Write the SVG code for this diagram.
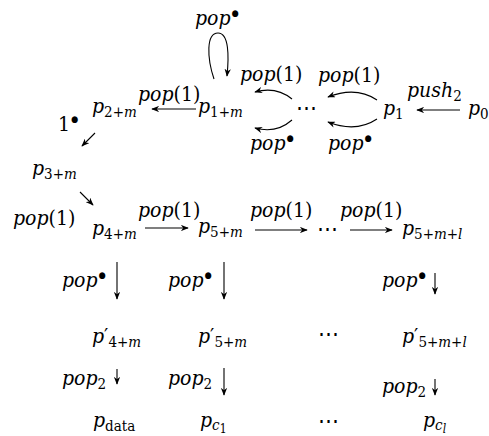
<svg xmlns="http://www.w3.org/2000/svg" width="489" height="436" viewBox="0 0 489 436">
<style>
.t{font-family:"DejaVu Serif",serif;font-stretch:condensed;font-size:21px;fill:#000}
.i{font-style:italic}
.s{font-size:15px}
.b{font-size:9px}
.e{fill:none;stroke:#000;stroke-width:1.1;marker-end:url(#ah)}
</style>
<defs>
<marker id="ah" viewBox="0 0 10 8" refX="9" refY="4" markerWidth="8" markerHeight="6.4" markerUnits="userSpaceOnUse" orient="auto">
<path d="M0,0 L10,4 L0,8 L3,4 z" fill="#000"/>
</marker>
</defs>
<g id="edges">
<path class="e" d="M214,79 C207,58 206,33 218,33 C229,33 229,56 227,76"/>
<line class="e" x1="196" y1="109" x2="152" y2="109"/>
<path class="e" d="M292,99 Q276,86 255,92"/>
<path class="e" d="M292,120 Q276,134 255,128"/>
<path class="e" d="M377,100 Q356,86 328,97"/>
<path class="e" d="M377,119 Q356,133 328,122"/>
<line class="e" x1="460" y1="110" x2="417" y2="110"/>
<line class="e" x1="95" y1="133" x2="82" y2="146"/>
<line class="e" x1="80" y1="192" x2="93" y2="205"/>
<line class="e" x1="145" y1="228" x2="188" y2="228"/>
<line class="e" x1="255" y1="230" x2="307" y2="230"/>
<line class="e" x1="350" y1="230" x2="392" y2="230"/>
<line class="e" x1="117" y1="262" x2="117" y2="299"/>
<line class="e" x1="224" y1="262" x2="224" y2="299"/>
<line class="e" x1="435" y1="273" x2="435" y2="294"/>
<line class="e" x1="117" y1="369" x2="117" y2="384"/>
<line class="e" x1="224" y1="368" x2="224" y2="395"/>
<line class="e" x1="435" y1="379" x2="435" y2="395"/>
</g>
<g id="labels">
<text class="t" x="195" y="25"><tspan class="i">pop</tspan><tspan class="b" dx="1" dy="-9">●</tspan></text>
<text class="t" x="138" y="101"><tspan class="i">pop</tspan>(1)</text>
<text class="t" x="240" y="81"><tspan class="i">pop</tspan>(1)</text>
<text class="t" x="318" y="82"><tspan class="i">pop</tspan>(1)</text>
<text class="t" x="250" y="150"><tspan class="i">pop</tspan><tspan class="b" dx="1" dy="-9">●</tspan></text>
<text class="t" x="328" y="150"><tspan class="i">pop</tspan><tspan class="b" dx="1" dy="-9">●</tspan></text>
<text class="t" x="407" y="97"><tspan class="i">push</tspan><tspan class="s" dy="4">2</tspan></text>
<text class="t" x="58" y="131">1<tspan class="b" dx="1" dy="-9">●</tspan></text>
<text class="t" x="13" y="225"><tspan class="i">pop</tspan>(1)</text>
<text class="t" x="138" y="217"><tspan class="i">pop</tspan>(1)</text>
<text class="t" x="250" y="217"><tspan class="i">pop</tspan>(1)</text>
<text class="t" x="340" y="217"><tspan class="i">pop</tspan>(1)</text>
<text class="t" x="62" y="287"><tspan class="i">pop</tspan><tspan class="b" dx="1" dy="-9">●</tspan></text>
<text class="t" x="168" y="287"><tspan class="i">pop</tspan><tspan class="b" dx="1" dy="-9">●</tspan></text>
<text class="t" x="382" y="287"><tspan class="i">pop</tspan><tspan class="b" dx="1" dy="-9">●</tspan></text>
<text class="t" x="62" y="385"><tspan class="i">pop</tspan><tspan class="s" dy="4">2</tspan></text>
<text class="t" x="168" y="385"><tspan class="i">pop</tspan><tspan class="s" dy="4">2</tspan></text>
<text class="t" x="382" y="393"><tspan class="i">pop</tspan><tspan class="s" dy="4">2</tspan></text>
<text class="t" x="306" y="115" text-anchor="middle">⋯</text>
<text class="t" x="327" y="236" text-anchor="middle">⋯</text>
<text class="t" x="328" y="341" text-anchor="middle">⋯</text>
<text class="t" x="328" y="428" text-anchor="middle">⋯</text>
</g>
<g id="n-p0"><text class="t" x="468" y="115"><tspan class="i">p</tspan><tspan class="s" dy="4">0</tspan></text></g>
<g id="n-p1"><text class="t" x="383" y="115"><tspan class="i">p</tspan><tspan class="s" dy="4">1</tspan></text></g>
<g id="n-p1m"><text class="t" x="198" y="113"><tspan class="i">p</tspan><tspan class="s" dy="4">1+</tspan><tspan class="s i">m</tspan></text></g>
<g id="n-p2m"><text class="t" x="92" y="113"><tspan class="i">p</tspan><tspan class="s" dy="4">2+</tspan><tspan class="s i">m</tspan></text></g>
<g id="n-p3m"><text class="t" x="32" y="175"><tspan class="i">p</tspan><tspan class="s" dy="4">3+</tspan><tspan class="s i">m</tspan></text></g>
<g id="n-p4m"><text class="t" x="92" y="235"><tspan class="i">p</tspan><tspan class="s" dy="4">4+</tspan><tspan class="s i">m</tspan></text></g>
<g id="n-p5m"><text class="t" x="198" y="233"><tspan class="i">p</tspan><tspan class="s" dy="4">5+</tspan><tspan class="s i">m</tspan></text></g>
<g id="n-p5ml"><text class="t" x="402" y="235"><tspan class="i">p</tspan><tspan class="s" dy="4">5+</tspan><tspan class="s i">m</tspan><tspan class="s">+</tspan><tspan class="s i">l</tspan></text></g>
<g id="n-pp4m"><text class="t" x="92" y="343"><tspan class="i">p</tspan><tspan>′</tspan><tspan class="s" dy="4">4+</tspan><tspan class="s i">m</tspan></text></g>
<g id="n-pp5m"><text class="t" x="198" y="343"><tspan class="i">p</tspan><tspan>′</tspan><tspan class="s" dy="4">5+</tspan><tspan class="s i">m</tspan></text></g>
<g id="n-pp5ml"><text class="t" x="402" y="343"><tspan class="i">p</tspan><tspan>′</tspan><tspan class="s" dy="4">5+</tspan><tspan class="s i">m</tspan><tspan class="s">+</tspan><tspan class="s i">l</tspan></text></g>
<g id="n-pdata"><text class="t" x="93" y="427"><tspan class="i">p</tspan><tspan class="s" dy="4">data</tspan></text></g>
<g id="n-pc1"><text class="t" x="200" y="427"><tspan class="i">p</tspan><tspan class="s i" dy="3">c</tspan><tspan dy="3" style="font-size:12px">1</tspan></text></g>
<g id="n-pcl"><text class="t" x="423" y="427"><tspan class="i">p</tspan><tspan class="s i" dy="3">c</tspan><tspan class="i" dy="3" style="font-size:12px">l</tspan></text></g>
</svg>
